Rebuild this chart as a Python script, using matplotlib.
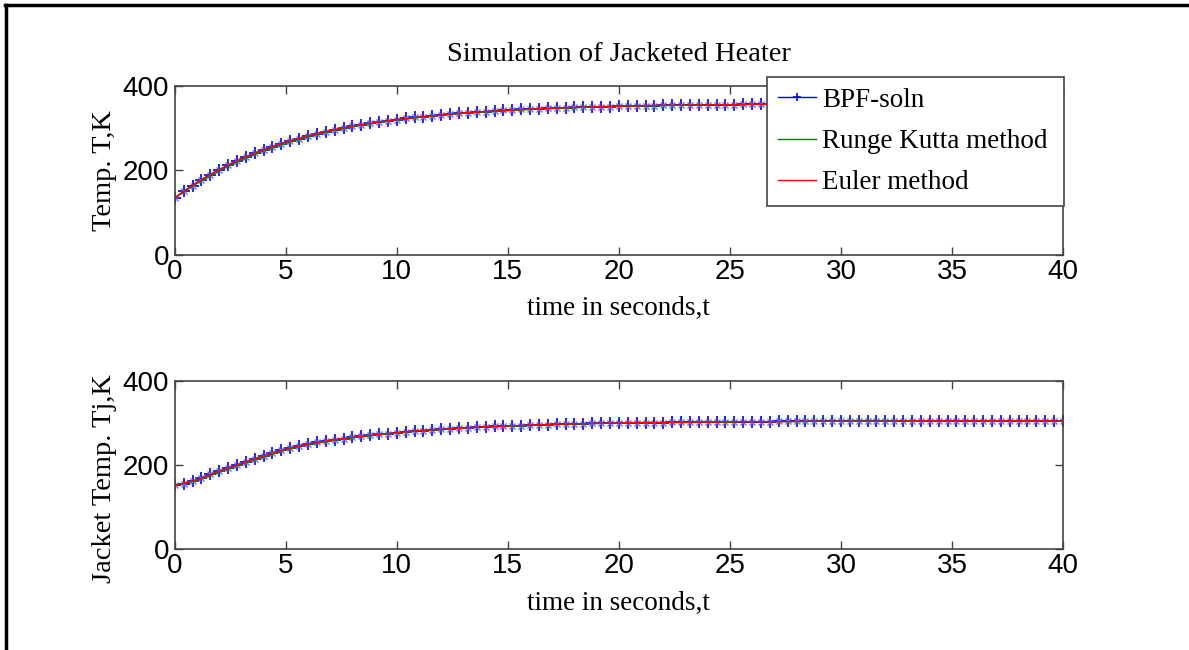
import numpy as np
import matplotlib
matplotlib.use("Agg")
import matplotlib.pyplot as plt
from matplotlib.lines import Line2D

# time grids (s)
t_bpf = np.linspace(0, 40, 101)
t_num = np.linspace(0, 40, 41)

# reactor temperature T (K)
T_bpf = [135, 150, 164, 178, 190, 201, 212, 222, 231, 240,
         248, 256, 263, 269, 275, 281, 286, 291, 296, 300,
         304, 308, 311, 314, 317, 320, 323, 325, 327, 329,
         331, 333, 335, 336, 338, 339, 341, 342, 343, 344,
         345, 346, 347, 347, 348, 349, 349, 350, 351, 351,
         352, 352, 352, 353, 353, 354, 354, 354, 354, 355,
         355, 355, 355, 355, 356, 356, 356, 356, 356, 356,
         356, 357, 357, 357, 357, 357, 357, 357, 357, 357,
         357, 357, 357, 357, 358, 358, 358, 358, 358, 358,
         358, 358, 358, 358, 358, 358, 358, 358, 358, 358,
         358]
T_rk = [135, 169, 199, 225, 246, 264, 279, 292, 303, 312,
        319, 325, 330, 335, 338, 341, 344, 346, 348, 350,
        351, 352, 353, 354, 355, 355, 356, 356, 356, 357,
        357, 357, 357, 357, 357, 358, 358, 358, 358, 358, 358]
T_euler = [135, 172, 202, 228, 249, 267, 282, 294, 305, 313,
           320, 326, 331, 336, 339, 342, 345, 347, 349, 350,
           352, 353, 354, 354, 355, 355, 356, 356, 356, 357,
           357, 357, 357, 357, 358, 358, 358, 358, 358, 358, 358]

# jacket temperature Tj (K)
Tj_bpf = [152, 155, 162, 170, 178, 186, 194, 201, 208, 215,
          222, 229, 235, 241, 246, 250, 254, 257, 260, 263,
          266, 268, 271, 273, 275, 277, 279, 281, 282, 284,
          285, 286, 288, 289, 290, 291, 292, 293, 293, 294,
          295, 296, 296, 297, 297, 298, 298, 299, 299, 300,
          300, 300, 301, 301, 301, 301, 302, 302, 302, 302,
          302, 303, 303, 303, 303, 303, 303, 303, 304, 304,
          304, 304, 304, 304, 304, 304, 304, 304, 304, 304,
          305, 305, 305, 305, 305, 305, 305, 305, 305, 305,
          305, 305, 305, 305, 305, 305, 305, 305, 305, 305,
          305]
Tj_rk = [152, 163, 183, 202, 219, 236, 248, 257, 265, 271,
         276, 281, 284, 288, 290, 292, 294, 296, 297, 299,
         299, 300, 301, 301, 302, 302, 303, 303, 303, 304,
         304, 304, 304, 304, 304, 305, 305, 305, 305, 305, 305]
Tj_euler = [152, 165, 186, 204, 222, 238, 250, 259, 266, 272,
            277, 282, 285, 288, 291, 293, 295, 297, 298, 299,
            300, 301, 301, 302, 302, 303, 303, 303, 304, 304,
            304, 304, 304, 305, 305, 305, 305, 305, 305, 305, 305]

xticks = [0, 5, 10, 15, 20, 25, 30, 35, 40]
yticks = [0, 200, 400]

serif = "Liberation Serif"
sans = "Liberation Sans"

fig = plt.figure(figsize=(11.89, 6.5), dpi=100)
ax1 = fig.add_axes([0.147, 0.608, 0.747, 0.260])
ax2 = fig.add_axes([0.147, 0.155, 0.747, 0.259])


def style(ax, ylabel):
    ax.set_xlim(0, 40)
    ax.set_ylim(0, 400)
    ax.set_xticks(xticks)
    ax.set_yticks(yticks)
    ax.tick_params(direction="in", length=6, width=1, top=True, right=True,
                   labelsize=20, pad=3, colors="#444444", labelcolor="black")
    ax.tick_params(axis="y", pad=4)
    for lab in ax.get_xticklabels() + ax.get_yticklabels():
        lab.set_family(sans)
    for s in ax.spines.values():
        s.set_color("#444444")
        s.set_linewidth(1.2)
    ax.set_xlabel("time in seconds,t", family=serif, fontsize=19.5, labelpad=8)
    ax.set_ylabel(ylabel, family=serif, fontsize=20.5, labelpad=4)


for ax, yb, yr, ye, lab in [(ax1, T_bpf, T_rk, T_euler, "Temp. T,K"),
                            (ax2, Tj_bpf, Tj_rk, Tj_euler, "Jacket Temp. Tj,K")]:
    ax.plot(t_bpf, yb, color="blue", marker="+", markersize=8,
            markeredgewidth=1.2, linewidth=1, label="BPF-soln")
    ax.plot(t_bpf, yb, color="#6f6fff", marker="x", markersize=5,
            markeredgewidth=1, linestyle="none")
    ax.plot(t_num, yr, color="green", linewidth=1, label="Runge Kutta method")
    ax.plot(t_num, ye, color="red", linewidth=1, label="Euler method")
    style(ax, lab)

ax2.yaxis.label.set_y(0.42)

ax1.set_title("Simulation of Jacketed Heater", family=serif, fontsize=20.5, pad=18)
leg = ax1.legend(loc="upper left", bbox_to_anchor=(0.645, 0.5, 0.2498, 0.3815),
                 bbox_transform=fig.transFigure, mode="expand",
                 prop={"family": serif, "size": 19.5}, fancybox=False,
                 framealpha=1, edgecolor="#444444", handlelength=1.4,
                 borderpad=0.4, labelspacing=0.6, handletextpad=0.25,
                 borderaxespad=0, markerscale=0.8)
leg.get_frame().set_linewidth(1.2)

# page border (left and top)
fig.add_artist(Line2D([0.005, 0.005], [0, 0.993], color="black", linewidth=2.5,
                      transform=fig.transFigure))
fig.add_artist(Line2D([0.004, 1.0], [0.993, 0.993], color="black", linewidth=2.5,
                      transform=fig.transFigure))

fig.savefig("out.png", dpi=100)
